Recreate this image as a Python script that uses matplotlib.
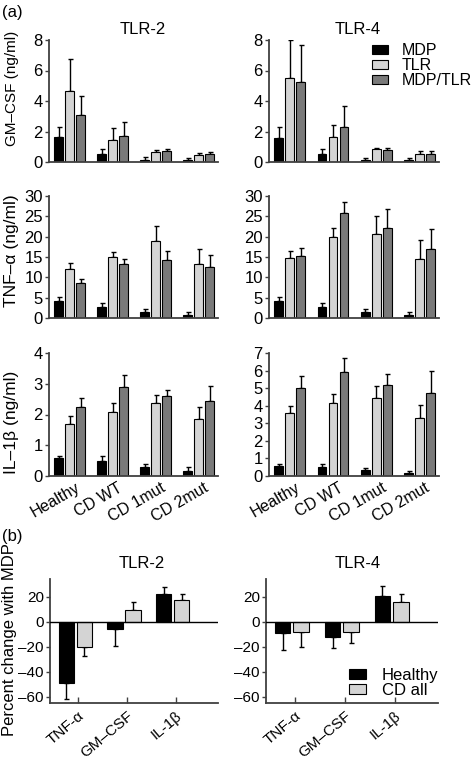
import matplotlib

matplotlib.use("Agg")
import matplotlib.pyplot as plt
import numpy as np

plt.rcParams["font.family"] = ["Liberation Sans", "DejaVu Sans"]
plt.rcParams["font.size"] = 12

GROUPS = ["Healthy", "CD WT", "CD 1mut", "CD 2mut"]
TREATMENTS = ["MDP", "TLR", "MDP/TLR"]
TREAT_COLORS = ["#000000", "#d4d4d4", "#7a7a7a"]

# panel (a): means and upper error-bar ends, rows = MDP, TLR, MDP/TLR
gmcsf_tlr2 = [[1.65, 0.52, 0.15, 0.12], [4.65, 1.42, 0.65, 0.45], [3.08, 1.72, 0.72, 0.52]]
gmcsf_tlr2_top = [[2.3, 0.82, 0.3, 0.25], [6.75, 2.25, 0.78, 0.57], [4.33, 2.65, 0.88, 0.68]]
gmcsf_tlr4 = [[1.6, 0.5, 0.15, 0.12], [5.5, 1.65, 0.82, 0.52], [5.25, 2.3, 0.8, 0.55]]
gmcsf_tlr4_top = [[2.3, 0.82, 0.25, 0.25], [8.0, 2.42, 0.95, 0.72], [7.7, 3.65, 0.93, 0.72]]

tnf_tlr2 = [[4.1, 2.7, 1.4, 0.7], [12.1, 14.9, 18.9, 13.3], [8.6, 13.4, 14.3, 12.5]]
tnf_tlr2_top = [[5.1, 3.75, 2.1, 1.4], [13.6, 16.2, 22.7, 16.9], [9.6, 14.6, 16.5, 15.4]]
tnf_tlr4 = [[4.1, 2.7, 1.4, 0.7], [14.7, 20.0, 20.6, 14.4], [15.3, 25.7, 22.2, 16.9]]
tnf_tlr4_top = [[5.1, 3.7, 2.3, 1.4], [16.4, 22.2, 25.1, 19.2], [17.2, 28.6, 26.8, 22.0]]

il1b_tlr2 = [[0.57, 0.5, 0.29, 0.17], [1.69, 2.07, 2.37, 1.86], [2.23, 2.88, 2.6, 2.45]]
il1b_tlr2_top = [[0.66, 0.66, 0.4, 0.29], [1.94, 2.39, 2.65, 2.23], [2.53, 3.28, 2.79, 2.93]]
il1b_tlr4 = [[0.57, 0.52, 0.33, 0.15], [3.58, 4.17, 4.43, 3.28], [5.0, 5.92, 5.19, 4.71]]
il1b_tlr4_top = [[0.7, 0.69, 0.46, 0.29], [4.0, 4.65, 5.1, 4.06], [5.67, 6.74, 5.8, 5.97]]

# panel (b): percent change with MDP
CYTOKINES = ["TNF-\u03b1", "GM\u2013CSF", "IL-1\u03b2"]
COHORTS = ["Healthy", "CD all"]
COHORT_COLORS = ["#000000", "#d4d4d4"]
pct_tlr2 = [[-49, -6, 22], [-20, 9, 17]]
pct_tlr2_end = [[-62, -19.5, 27.5], [-27.5, 15.7, 22.4]]
pct_tlr4 = [[-9.3, -12.3, 20.8], [-8, -8.3, 15.5]]
pct_tlr4_end = [[-23, -21.3, 28.5], [-20, -17.3, 22.4]]
PCT_TICKS = [-60, -40, -20, 0, 20]

W, H = 475, 765
SPINE = "#404040"


def box(left, top, right, bottom):
    return [left / W, 1 - bottom / H, (right - left) / W, (bottom - top) / H]


def style_axes(ax, tick_size):
    for side in ("top", "right"):
        ax.spines[side].set_visible(False)
    for side in ("left", "bottom"):
        ax.spines[side].set_linewidth(1.3)
        ax.spines[side].set_color(SPINE)
    ax.tick_params(axis="y", direction="out", length=3, width=1, color=SPINE,
                   pad=1.5, labelsize=tick_size)


def panel_a(ax, means, tops, ymax, yticks, show_x):
    x = np.arange(len(GROUPS))
    for i, (m, t) in enumerate(zip(means, tops)):
        pos = x + (i - 1) * 0.255
        m = np.array(m)
        err = np.array(t) - m
        ax.bar(pos, m, width=0.2, color=TREAT_COLORS[i], edgecolor="black",
               linewidth=0.8, label=TREATMENTS[i], zorder=2)
        ax.errorbar(pos, m, yerr=[np.zeros_like(err), err], fmt="none",
                    ecolor="black", elinewidth=1, capsize=1.8, capthick=1, zorder=1)
    ax.set_xlim(-0.48, 3.45)
    ax.set_ylim(0, ymax)
    ax.set_yticks(yticks)
    style_axes(ax, 12)
    ax.tick_params(axis="x", length=0, pad=3)
    if show_x:
        ax.set_xticks(x + 0.12)
        ax.set_xticklabels(GROUPS, rotation=30, ha="right", rotation_mode="anchor",
                           fontsize=11.5)
    else:
        ax.set_xticks([])


def panel_b(ax, vals, ends):
    x = np.arange(len(CYTOKINES))
    for i, (v, e) in enumerate(zip(vals, ends)):
        pos = x + (i - 0.5) * 0.37 - 0.01
        v = np.array(v)
        err = np.abs(np.array(e) - v)
        lower = np.where(v < 0, err, 0)
        upper = np.where(v >= 0, err, 0)
        ax.bar(pos, v, width=0.31, color=COHORT_COLORS[i], edgecolor="black",
               linewidth=0.8, label=COHORTS[i], zorder=2)
        ax.errorbar(pos, v, yerr=[lower, upper], fmt="none", ecolor="black",
                    elinewidth=1, capsize=1.8, capthick=1, zorder=1)
    ax.axhline(0, color="black", linewidth=1, zorder=3)
    ax.set_xlim(-0.53, 2.92)
    ax.set_ylim(-65, 34)
    ax.set_yticks(PCT_TICKS)
    ax.set_yticklabels([str(t).replace("-", "\u2013") for t in PCT_TICKS])
    style_axes(ax, 11)
    ax.set_xticks(x + 0.05)
    ax.set_xticklabels(CYTOKINES, rotation=40, ha="right", rotation_mode="anchor",
                       fontsize=11)
    ax.tick_params(axis="x", direction="in", length=4, width=1, color=SPINE, pad=4)


fig = plt.figure(figsize=(W / 100, H / 100), dpi=100)

ax1 = fig.add_axes(box(49, 40, 218, 162))
ax2 = fig.add_axes(box(269, 40, 439, 162))
ax3 = fig.add_axes(box(49, 196, 218, 318))
ax4 = fig.add_axes(box(269, 196, 439, 318))
ax5 = fig.add_axes(box(49, 353, 218, 476))
ax6 = fig.add_axes(box(269, 353, 439, 476))
ax7 = fig.add_axes(box(50, 579, 218, 703))
ax8 = fig.add_axes(box(266, 579, 438, 703))

panel_a(ax1, gmcsf_tlr2, gmcsf_tlr2_top, 8, [0, 2, 4, 6, 8], False)
panel_a(ax2, gmcsf_tlr4, gmcsf_tlr4_top, 8, [0, 2, 4, 6, 8], False)
panel_a(ax3, tnf_tlr2, tnf_tlr2_top, 30, [0, 5, 10, 15, 20, 25, 30], False)
panel_a(ax4, tnf_tlr4, tnf_tlr4_top, 30, [0, 5, 10, 15, 20, 25, 30], False)
panel_a(ax5, il1b_tlr2, il1b_tlr2_top, 4, [0, 1, 2, 3, 4], True)
panel_a(ax6, il1b_tlr4, il1b_tlr4_top, 7, [0, 1, 2, 3, 4, 5, 6, 7], True)
panel_b(ax7, pct_tlr2, pct_tlr2_end)
panel_b(ax8, pct_tlr4, pct_tlr4_end)

ax1.set_ylabel("GM\u2013CSF (ng/ml)", fontsize=11)
ax3.set_ylabel("TNF\u2013\u03b1 (ng/ml)", fontsize=12.5)
ax5.set_ylabel("IL\u20131\u03b2 (ng/ml)", fontsize=12.5)
ax7.set_ylabel("Percent change with MDP", fontsize=12)
ax1.yaxis.set_label_coords(-0.178, 0.6)
ax3.yaxis.set_label_coords(-0.178, 0.55)
ax5.yaxis.set_label_coords(-0.178, 0.44)
ax7.yaxis.set_label_coords(-0.195, 0.51)

ax2.legend(loc="upper left", bbox_to_anchor=(0.606, 0.975), frameon=False,
           borderpad=0, borderaxespad=0, handlelength=1.0, handleheight=0.55,
           handletextpad=0.85, labelspacing=0.0, fontsize=11.5)
ax8.legend(loc="upper left", bbox_to_anchor=(0.483, 0.282), frameon=False,
           borderpad=0, borderaxespad=0, handlelength=1.0, handleheight=0.55,
           handletextpad=0.95, labelspacing=0.0, fontsize=12)

fig.text(143 / W, 1 - 30 / H, "TLR-2", ha="center", va="center", fontsize=12)
fig.text(358 / W, 1 - 30 / H, "TLR-4", ha="center", va="center", fontsize=12)
fig.text(142 / W, 1 - 563 / H, "TLR-2", ha="center", va="center", fontsize=12)
fig.text(358 / W, 1 - 563 / H, "TLR-4", ha="center", va="center", fontsize=12)
fig.text(2 / W, 1 - 12 / H, "(a)", ha="left", va="center", fontsize=12)
fig.text(2 / W, 1 - 537 / H, "(b)", ha="left", va="center", fontsize=12)

fig.savefig("out.png", dpi=100, facecolor="white")
